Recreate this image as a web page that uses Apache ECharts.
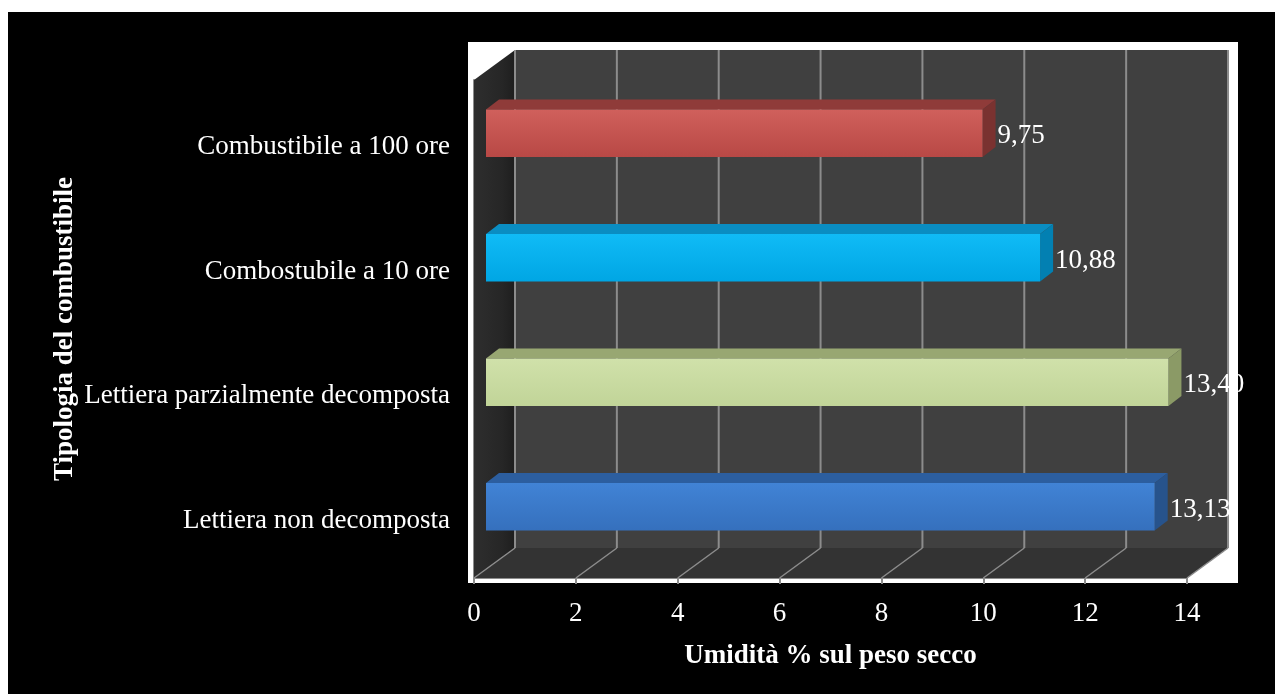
<!DOCTYPE html>
<html>
<head>
<meta charset="utf-8">
<script src="https://cdn.jsdelivr.net/npm/echarts@6/dist/echarts.min.js"></script>
<style>
  html, body { margin: 0; padding: 0; background: #000; }
  #chart { width: 1275px; height: 694px; }
</style>
</head>
<body>
<div id="chart"></div>
<script>
// Fuel categories, top to bottom
const categories = [
  'Combustibile a 100 ore',
  'Combostubile a 10 ore',
  'Lettiera parzialmente decomposta',
  'Lettiera non decomposta'
];
// Moisture, % of dry weight
const moisture = [9.75, 10.88, 13.40, 13.13];
// Value axis ticks
const xTicks = [0, 2, 4, 6, 8, 10, 12, 14];
const xTitle = 'Umidità % sul peso secco';
const yTitle = 'Tipologia del combustibile';

// Bar face colours: front gradient (light, dark), top, side
const barColors = [
  { front: ['#d0605c', '#b84845'], top: '#8f3b39', side: '#7a3230' },
  { front: ['#10bbf6', '#00a6e4'], top: '#0a8dc2', side: '#0280b2' },
  { front: ['#d0e1aa', '#c1d498'], top: '#98a772', side: '#8b9a66' },
  { front: ['#4183d5', '#3570bd'], top: '#2c5e9f', side: '#27538c' }
];

// Depth of the 3D box (back wall offset from the front plane)
const DX = 41, DY = -30;
const SERIF = '"Liberation Serif", "Times New Roman", serif';
const FS = 27;

const chart = echarts.init(document.getElementById('chart'), null, { renderer: 'canvas' });

function renderWalls(params, api) {
  const cs = params.coordSys;
  const x0 = cs.x, y0 = cs.y, x1 = cs.x + cs.width, y1 = cs.y + cs.height;
  const gray = '#8c8c8c';
  const children = [];
  // back wall
  children.push({ type: 'rect', shape: { x: x0 + DX, y: y0 + DY, width: cs.width, height: cs.height },
    style: { fill: '#404040' } });
  // floor
  children.push({ type: 'polygon', shape: { points: [[x0, y1], [x1, y1], [x1 + DX, y1 + DY], [x0 + DX, y1 + DY]] },
    style: { fill: '#333333' } });
  // left side wall
  children.push({ type: 'polygon', shape: { points: [[x0, y0], [x0 + DX, y0 + DY], [x0 + DX, y1 + DY], [x0, y1]] },
    style: { fill: new echarts.graphic.LinearGradient(0, 0, 1, 0, [
      { offset: 0, color: '#2e2e2e' }, { offset: 0.7, color: '#262626' }, { offset: 1, color: '#1e1e1e' }]) } });
  // gridlines on back wall and floor
  xTicks.forEach(function (t) {
    const x = api.coord([t, 0])[0];
    children.push({ type: 'line', shape: { x1: x + DX, y1: y0 + DY, x2: x + DX, y2: y1 + DY },
      style: { stroke: gray, lineWidth: 2 } });
    children.push({ type: 'line', shape: { x1: x, y1: y1, x2: x + DX, y2: y1 + DY },
      style: { stroke: gray, lineWidth: 1.5 } });
  });
  return { type: 'group', children: children };
}

function renderBar(params, api) {
  const v = api.value(0);
  const idx = api.value(1);
  const c = barColors[idx];
  const base = api.coord([0, idx]);
  const end = api.coord([v, idx]);
  const band = api.size([0, 1])[1];
  const h = band * 0.38;
  // front face sits slightly behind the front plane
  const ox = 12, oy = -9;
  // bar thickness in depth
  const dx = 13, dy = -10;
  const fx0 = base[0] + ox, fx1 = end[0] + ox;
  const fy0 = base[1] + oy - h / 2, fy1 = fy0 + h;
  const label = v.toFixed(2).replace('.', ',');
  return {
    type: 'group',
    children: [
      { type: 'polygon', shape: { points: [[fx0, fy0], [fx1, fy0], [fx1 + dx, fy0 + dy], [fx0 + dx, fy0 + dy]] },
        style: { fill: c.top } },
      { type: 'polygon', shape: { points: [[fx1, fy0], [fx1 + dx, fy0 + dy], [fx1 + dx, fy1 + dy], [fx1, fy1]] },
        style: { fill: c.side } },
      { type: 'rect', shape: { x: fx0, y: fy0, width: fx1 - fx0, height: h },
        style: { fill: new echarts.graphic.LinearGradient(0, 0, 0, 1, [
          { offset: 0, color: c.front[0] }, { offset: 1, color: c.front[1] }]) } },
      { type: 'text', x: fx1 + dx + 2, y: (fy0 + fy1) / 2 + 3,
        style: { text: label, fill: '#ffffff', font: FS + 'px ' + SERIF, verticalAlign: 'middle', align: 'left' } }
    ]
  };
}

chart.setOption({
  backgroundColor: '#000000',
  animation: false,
  graphic: [
    { type: 'rect', left: 0, top: 0, shape: { width: 1275, height: 12 }, style: { fill: '#ffffff' }, z: -10 },
    { type: 'rect', left: 0, top: 0, shape: { width: 8, height: 694 }, style: { fill: '#ffffff' }, z: -10 },
    { type: 'rect', left: 468, top: 42, shape: { width: 770, height: 541 }, style: { fill: '#ffffff' }, z: -10 }
  ],
  grid: { left: 474, right: 88, top: 80, bottom: 116 },
  xAxis: {
    type: 'value', min: 0, max: 14, interval: 2,
    axisLine: { show: true, lineStyle: { color: '#8c8c8c', width: 2 } },
    axisTick: { show: true, length: 6, lineStyle: { color: '#8c8c8c', width: 2 } },
    splitLine: { show: false },
    axisLabel: { color: '#ffffff', fontSize: FS, fontFamily: SERIF, margin: 22,
      formatter: function (v) { return xTicks.indexOf(v) >= 0 ? String(v) : ''; } },
    name: xTitle, nameLocation: 'middle', nameGap: 65,
    nameTextStyle: { color: '#ffffff', fontSize: FS, fontWeight: 'bold', fontFamily: SERIF }
  },
  yAxis: {
    type: 'category', data: categories, inverse: true,
    axisLine: { show: true, lineStyle: { color: '#8c8c8c', width: 2 } },
    axisTick: { show: false },
    axisLabel: { color: '#ffffff', fontSize: FS, fontFamily: SERIF, margin: 24,
      formatter: function (v) { return '{c|' + v + '}'; },
      rich: { c: { color: '#ffffff', fontSize: FS, fontFamily: SERIF, padding: [10, 0, 0, 0] } } },
    name: yTitle, nameLocation: 'middle', nameGap: 395, nameRotate: 90, nameMoveOverlap: false,
    nameTextStyle: { color: '#ffffff', fontSize: FS, fontWeight: 'bold', fontFamily: SERIF }
  },
  series: [
    { type: 'custom', z: 1, silent: true, data: [[0, 0]], renderItem: renderWalls, clip: false },
    { type: 'custom', z: 5, data: moisture.map(function (v, i) { return [v, i]; }),
      encode: { x: 0, y: 1 }, renderItem: renderBar, clip: false }
  ]
});
</script>
</body>
</html>
